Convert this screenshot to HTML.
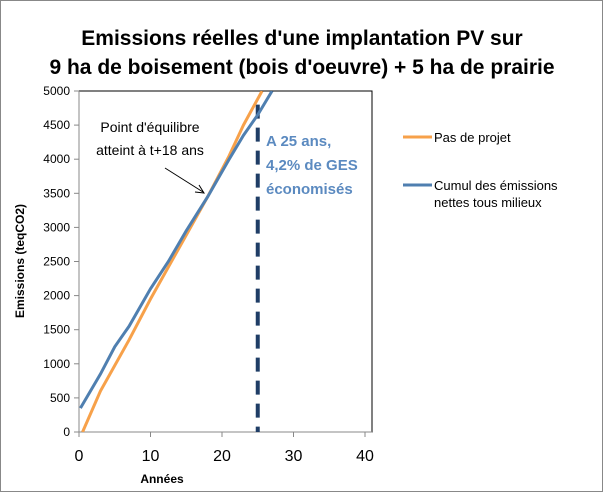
<!DOCTYPE html>
<html><head><meta charset="utf-8"><style>
body{margin:0;background:#fff}
svg{display:block;font-family:"Liberation Sans",sans-serif}
</style></head><body>
<svg width="605" height="493" viewBox="0 0 605 493">
<rect x="0.5" y="0.5" width="602" height="491" fill="#fff" stroke="#888"/>
<text x="302" y="45" text-anchor="middle" font-size="21" font-weight="bold">Emissions réelles d'une implantation PV sur</text>
<text x="302" y="74" text-anchor="middle" font-size="21" font-weight="bold">9 ha de boisement (bois d'oeuvre) + 5 ha de prairie</text>
<g id="axes"></g>
<g id="marks"></g>
<text x="150" y="132" text-anchor="middle" font-size="14">Point d'équilibre</text>
<text x="150" y="155" text-anchor="middle" font-size="14">atteint à t+18 ans</text>
<line x1="165" y1="168" x2="203" y2="192" stroke="#000" stroke-width="1"/>
<polyline points="195,192 204,193 199,185" fill="none" stroke="#000" stroke-width="1"/>
<text x="266" y="146" font-size="15" font-weight="bold" fill="#5b8ac0">A 25 ans,</text>
<text x="266" y="170" font-size="15" font-weight="bold" fill="#5b8ac0">4,2% de GES</text>
<text x="266" y="194" font-size="15" font-weight="bold" fill="#5b8ac0">économisés</text>
<g>
<line x1="403" y1="137" x2="432" y2="137" stroke="#f7a14a" stroke-width="3"/>
<text x="434" y="142" font-size="13">Pas de projet</text>
<line x1="403" y1="185" x2="432" y2="185" stroke="#4f7fb0" stroke-width="3"/>
<text x="434" y="190" font-size="13">Cumul des émissions</text>
<text x="434" y="207" font-size="13">nettes tous milieux</text>
</g>
<text x="162" y="483" text-anchor="middle" font-size="12" font-weight="bold">Années</text>
<text transform="translate(24,261) rotate(-90)" text-anchor="middle" font-size="12" font-weight="bold">Emissions (teqCO2)</text>
</svg>
<script>
const xTicks=[0,10,20,30,40];
const yTicks=[0,500,1000,1500,2000,2500,3000,3500,4000,4500,5000];
const pasDeProjetX=[0.5,3,7,10,14,18,21,23,25.6];
const pasDeProjetY=[0,600,1350,1950,2700,3450,4050,4500,5000];
const cumulX=[0.2,3,5,7,10,12.5,15,18,21,23,25,27];
const cumulY=[350,850,1250,1550,2100,2500,2950,3450,4000,4350,4650,5000];
const markerYear=25, markerTop=4800;
const X0=79,X1=372,Y0=432,Y1=91;
const sx=v=>X0+(v-0)/(40-0)*286;
const sy=v=>Y0-(v/5000)*(Y0-Y1);
const NS="http://www.w3.org/2000/svg";
const axes=document.getElementById('axes'),marks=document.getElementById('marks');
function mk(p,tag,attrs){const e=document.createElementNS(NS,tag);for(const k in attrs)e.setAttribute(k,attrs[k]);p.appendChild(e);return e;}
const frame=mk(axes,'rect',{x:X0,y:Y1,width:X1-X0,height:Y0-Y1,fill:'none',stroke:'#000','stroke-width':1});


const ax=mk(axes,'line',{x1:X0,y1:Y0,x2:X1,y2:Y0,stroke:'#888'});


const ay=mk(axes,'line',{x1:X0,y1:Y0,x2:X0,y2:Y1,stroke:'#888'});


yTicks.forEach(v=>{
 const t=mk(axes,'line',{x1:X0-5,y1:sy(v),x2:X0,y2:sy(v),stroke:'#888'});
 
 
 const l=mk(axes,'text',{x:X0-9,y:sy(v)+4,'text-anchor':'end','font-size':12});
 l.textContent=v;
 
 
});
xTicks.forEach(v=>{
 const t=mk(axes,'line',{x1:sx(v),y1:Y0,x2:sx(v),y2:Y0+5,stroke:'#888'});
 
 
 const l=mk(axes,'text',{x:sx(v),y:Y0+29,'text-anchor':'middle','font-size':16});
 l.textContent=v;
 
 
});
const clip=mk(marks,'clipPath',{id:'pc'});mk(clip,'rect',{x:X0,y:Y1,width:X1-X0,height:Y0-Y1});
const dash=mk(marks,'line',{x1:sx(markerYear),y1:sy(markerTop),x2:sx(markerYear),y2:Y0,stroke:'#1f3d66','stroke-width':4,'stroke-dasharray':'14,9'});


const o=mk(marks,'polyline',{points:pasDeProjetX.map((x,i)=>sx(x)+','+sy(pasDeProjetY[i])).join(' '),fill:'none',stroke:'#f7a14a','stroke-width':3,'clip-path':'url(#pc)'});


const b=mk(marks,'polyline',{points:cumulX.map((x,i)=>sx(x)+','+sy(cumulY[i])).join(' '),fill:'none',stroke:'#4f7fb0','stroke-width':3,'clip-path':'url(#pc)'});


</script>
</body></html>
